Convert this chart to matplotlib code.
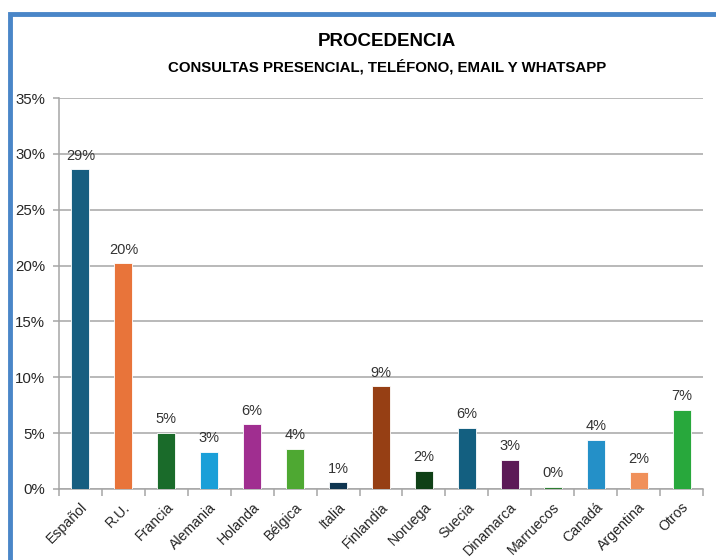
import matplotlib.pyplot as plt
import numpy as np
from matplotlib.patches import Rectangle
from matplotlib.ticker import FuncFormatter, MultipleLocator

plt.rcParams["font.family"] = ["Liberation Sans", "DejaVu Sans"]

# ── data ──────────────────────────────────────────────────────────────────────
COUNTRIES = ["Español", "R.U.", "Francia", "Alemania", "Holanda", "Bélgica",
             "Italia", "Finlandia", "Noruega", "Suecia", "Dinamarca",
             "Marruecos", "Canadá", "Argentina", "Otros"]
SHARE = [28.6, 20.2, 5.0, 3.3, 5.8, 3.6, 0.6, 9.2, 1.6, 5.5, 2.6, 0.2, 4.4,
         1.5, 7.1]
COLORS = ["#175e80", "#e8743a", "#1a6b2a", "#1a9fd8", "#a02e90", "#4ea832",
          "#0f3550", "#963f14", "#0f4016", "#135f80", "#5c1a57", "#2e7d32",
          "#2490c8", "#f0905a", "#28a83c"]
TITLE = "PROCEDENCIA"
SUBTITLE = "CONSULTAS PRESENCIAL, TELÉFONO, EMAIL Y WHATSAPP"

# ── figure ────────────────────────────────────────────────────────────────────
fig = plt.figure(figsize=(7.16, 5.6), dpi=100)
fig.patches.append(Rectangle((10 / 716, -0.1), 1.2, 1 - 14 / 560 + 0.1,
                             transform=fig.transFigure, fill=False,
                             edgecolor="#4a86c8", linewidth=3.5, zorder=0))

ax = fig.add_axes([59 / 716, 1 - 489 / 560, 644 / 716, 391 / 560])
x = np.arange(len(COUNTRIES))
ax.bar(x, SHARE, width=0.42, color=COLORS, edgecolor="white", linewidth=0.6,
       zorder=3)
for xi, v in zip(x, SHARE):
    ax.text(xi, v + 0.6, f"{v:.0f}%", ha="center", va="bottom", fontsize=10.5,
            color="#333333")

ax.set_xlim(-0.5, len(COUNTRIES) - 0.5)
ax.set_ylim(0, 35)
ax.yaxis.set_major_locator(MultipleLocator(5))
ax.yaxis.set_major_formatter(FuncFormatter(lambda v, _: f"{v:.0f}%"))
ax.grid(axis="y", color="#a6a6a6", linewidth=1.1, zorder=0)

ax.set_xticks(x)
ax.set_xticklabels(COUNTRIES, rotation=45, ha="right", rotation_mode="anchor",
                   fontsize=10.2, color="#262626")
ax.set_xticks(np.arange(len(COUNTRIES) + 1) - 0.5, minor=True)
ax.tick_params(axis="x", which="major", length=0, pad=8)
ax.tick_params(axis="x", which="minor", length=5, color="#a6a6a6", width=1.1)
ax.tick_params(axis="y", length=4, color="#a6a6a6", width=1.1, labelsize=10.8,
               labelcolor="#262626", pad=6)

for side in ("top", "right"):
    ax.spines[side].set_visible(False)
for side in ("left", "bottom"):
    ax.spines[side].set_color("#a6a6a6")
    ax.spines[side].set_linewidth(1.1)

fig.text(387 / 716, 1 - 42 / 560, TITLE, ha="center", va="center",
         fontsize=13.5, fontweight="bold")
fig.text(387 / 716, 1 - 67 / 560, SUBTITLE, ha="center", va="center",
         fontsize=10.8, fontweight="bold")

fig.savefig("out.png", dpi=100)
